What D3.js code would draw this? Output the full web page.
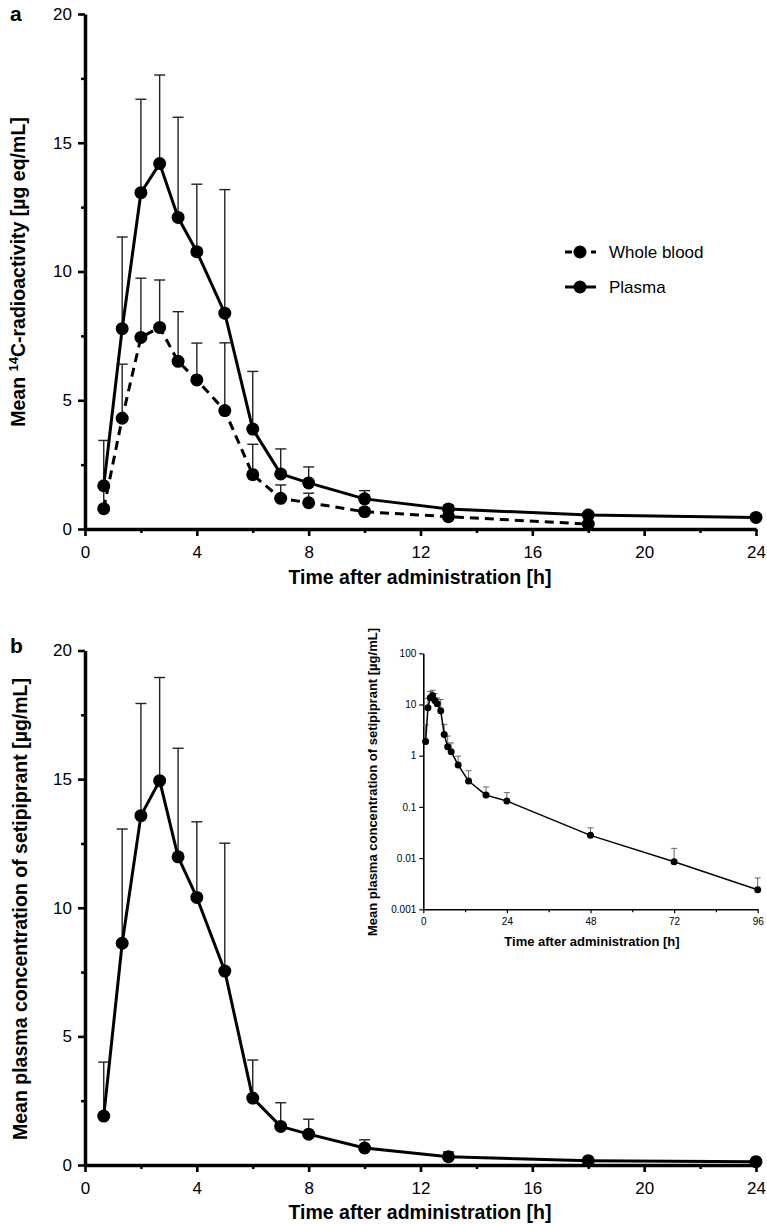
<!DOCTYPE html>
<html>
<head>
<meta charset="utf-8">
<script src="https://cdn.jsdelivr.net/npm/d3@7"></script>
<style>
  html, body { margin: 0; padding: 0; background: #fff; }
  svg { display: block; font-family: "Liberation Sans", Arial, Helvetica, sans-serif; }
</style>
</head>
<body>
<svg id="chart" width="767" height="1224"></svg>
<script>
// ---------- Data ----------
// Panel a: 14C-radioactivity
const timesA = [0.67, 1.33, 2, 2.67, 3.33, 4, 5, 6, 7, 8, 10, 13, 18, 24];
const plasmaA = [1.68, 7.78, 13.06, 14.19, 12.1, 10.77, 8.38, 3.88, 2.14, 1.79, 1.17, 0.78, 0.54, 0.45];
const plasmaAUpper = [3.44, 11.34, 16.69, 17.63, 15.99, 13.39, 13.18, 6.12, 3.11, 2.41, 1.49, 0.92, 0.64, 0.55];
const timesBlood = [0.67, 1.33, 2, 2.67, 3.33, 4, 5, 6, 7, 8, 10, 13, 18];
const bloodA = [0.79, 4.3, 7.44, 7.83, 6.51, 5.79, 4.6, 2.11, 1.19, 1.02, 0.67, 0.48, 0.19];
const bloodAUpper = [1.65, 6.4, 9.74, 9.67, 8.44, 7.22, 7.23, 3.29, 1.71, 1.39, 0.8, 0.58, 0.26];
const legendLabels = ["Whole blood", "Plasma"];

// Panel b: setipiprant plasma concentration
const timesB = [0.67, 1.33, 2, 2.67, 3.33, 4, 5, 6, 7, 8, 10, 13, 18, 24];
const setipB = [1.9, 8.62, 13.58, 14.94, 11.98, 10.4, 7.54, 2.6, 1.5, 1.2, 0.66, 0.32, 0.17, 0.13];
const setipBUpper = [4.0, 13.06, 17.94, 18.95, 16.2, 13.34, 12.51, 4.08, 2.42, 1.78, 0.98, 0.51, 0.245, 0.19];

// Inset: log scale, 0-96 h
const timesInset = [0.67, 1.33, 2, 2.67, 3.33, 4, 5, 6, 7, 8, 10, 13, 18, 24, 48, 72, 96];
const setipInset = [1.9, 8.62, 13.58, 14.94, 11.98, 10.4, 7.54, 2.6, 1.5, 1.2, 0.66, 0.32, 0.17, 0.13, 0.0278, 0.0085, 0.0024];
const setipInsetUpper = [4.0, 13.06, 17.94, 18.95, 16.2, 13.34, 12.51, 4.08, 2.42, 1.78, 0.98, 0.51, 0.245, 0.19, 0.039, 0.0155, 0.0041];

// Tick values
const xTicksMain = [0, 4, 8, 12, 16, 20, 24];
const xMinorMain = [2, 6, 10, 14, 18, 22];
const yTicksMain = [0, 5, 10, 15, 20];
const yMinorMain = [2.5, 7.5, 12.5, 17.5];
const xTicksInset = [0, 24, 48, 72, 96];
const xMinorInset = [12, 36, 60, 84];
const yTicksInset = [0.001, 0.01, 0.1, 1, 10, 100];
const yTickLabelsInset = ["0.001", "0.01", "0.1", "1", "10", "100"];

// ---------- Drawing ----------
const svg = d3.select("#chart");

function styleAxis(g, width, fontSize) {
  g.select(".domain").attr("stroke", "#000").attr("stroke-width", width);
  g.selectAll(".tick line").attr("stroke", "#000").attr("stroke-width", width * 0.75);
  g.selectAll(".tick text").attr("fill", "#000").attr("font-size", fontSize)
    .attr("font-family", "Liberation Sans, Arial, sans-serif");
}

function mainPanel(opts) {
  const x = d3.scaleLinear().domain([0, 24]).range([85, 756]);
  const y = d3.scaleLinear().domain([0, 20]).range([opts.y0, opts.y20]);

  // minor ticks
  const gxm = svg.append("g").attr("transform", `translate(0,${opts.y0})`)
    .call(d3.axisBottom(x).tickValues(xMinorMain).tickSize(4).tickFormat(""));
  gxm.select(".domain").remove();
  gxm.selectAll(".tick line").attr("stroke", "#000").attr("stroke-width", 2.5);
  const gym = svg.append("g").attr("transform", `translate(85,0)`)
    .call(d3.axisLeft(y).tickValues(yMinorMain).tickSize(4).tickFormat(""));
  gym.select(".domain").remove();
  gym.selectAll(".tick line").attr("stroke", "#000").attr("stroke-width", 2.5);

  const gx = svg.append("g").attr("transform", `translate(0,${opts.y0})`)
    .call(d3.axisBottom(x).tickValues(xTicksMain).tickSize(7).tickSizeOuter(0).tickPadding(10).tickFormat(d3.format("d")));
  styleAxis(gx, 3.5, 17);
  const gy = svg.append("g").attr("transform", `translate(85,0)`)
    .call(d3.axisLeft(y).tickValues(yTicksMain).tickSize(7).tickSizeOuter(0).tickPadding(6).tickFormat(d3.format("d")));
  styleAxis(gy, 3.5, 17);

  return { x, y };
}

function errorBars(g, times, vals, uppers, x, y, cap, color, w) {
  const data = times.map((t, i) => ({ t, v: vals[i], u: uppers[i] }));
  g.selectAll(null).data(data).enter().append("line")
    .attr("x1", d => x(d.t)).attr("x2", d => x(d.t))
    .attr("y1", d => y(d.v)).attr("y2", d => y(d.u))
    .attr("stroke", color).attr("stroke-width", w);
  g.selectAll(null).data(data).enter().append("line")
    .attr("x1", d => x(d.t) - cap / 2).attr("x2", d => x(d.t) + cap / 2)
    .attr("y1", d => y(d.u)).attr("y2", d => y(d.u))
    .attr("stroke", color).attr("stroke-width", w);
}

function series(g, times, vals, x, y, lw, dash, r) {
  const data = times.map((t, i) => [t, vals[i]]);
  const line = d3.line().x(d => x(d[0])).y(d => y(d[1]));
  g.append("path").datum(data).attr("d", line)
    .attr("fill", "none").attr("stroke", "#000").attr("stroke-width", lw)
    .attr("stroke-dasharray", dash || null).attr("stroke-linejoin", "round");
  g.selectAll(null).data(data).enter().append("circle")
    .attr("cx", d => x(d[0])).attr("cy", d => y(d[1])).attr("r", r).attr("fill", "#000");
}

// ----- Panel a -----
const pa = mainPanel({ y0: 529, y20: 14 });
const ga = svg.append("g");
errorBars(ga, timesBlood, bloodA, bloodAUpper, pa.x, pa.y, 11, "#222", 1.4);
errorBars(ga, timesA, plasmaA, plasmaAUpper, pa.x, pa.y, 11, "#222", 1.4);
series(ga, timesBlood, bloodA, pa.x, pa.y, 3, "9,6", 6.5);
series(ga, timesA, plasmaA, pa.x, pa.y, 3, null, 6.5);

svg.append("text").attr("x", 10).attr("y", 21).attr("font-size", 21).attr("font-weight", "bold").text("a");

const yla = svg.append("text").attr("transform", "translate(25,272) rotate(-90)")
  .attr("text-anchor", "middle").attr("font-size", 19.5).attr("font-weight", "bold");
yla.append("tspan").text("Mean ");
yla.append("tspan").attr("font-size", 13).attr("dy", -7).text("14");
yla.append("tspan").attr("dy", 7).text("C-radioactivity [µg eq/mL]");

svg.append("text").attr("x", 420).attr("y", 584).attr("text-anchor", "middle")
  .attr("font-size", 19.5).attr("font-weight", "bold").text("Time after administration [h]");

// legend
const lg = svg.append("g");
legendLabels.forEach((lab, i) => {
  const ly = 252 + i * 35;
  lg.append("line").attr("x1", 565).attr("x2", 596).attr("y1", ly).attr("y2", ly)
    .attr("stroke", "#000").attr("stroke-width", 3).attr("stroke-dasharray", i === 0 ? "7,6" : null);
  lg.append("circle").attr("cx", 580).attr("cy", ly).attr("r", 6.5).attr("fill", "#000");
  lg.append("text").attr("x", 609).attr("y", ly + 6).attr("font-size", 17).text(lab);
});

// ----- Panel b -----
const pb = mainPanel({ y0: 1165, y20: 650.5 });
const gb = svg.append("g");
errorBars(gb, timesB, setipB, setipBUpper, pb.x, pb.y, 11, "#222", 1.4);
series(gb, timesB, setipB, pb.x, pb.y, 3, null, 6.5);

svg.append("text").attr("x", 10).attr("y", 653).attr("font-size", 21).attr("font-weight", "bold").text("b");

svg.append("text").attr("transform", "translate(26.5,909) rotate(-90)")
  .attr("text-anchor", "middle").attr("font-size", 19.5).attr("font-weight", "bold")
  .text("Mean plasma concentration of setipiprant [µg/mL]");

svg.append("text").attr("x", 420).attr("y", 1219).attr("text-anchor", "middle")
  .attr("font-size", 19.5).attr("font-weight", "bold").text("Time after administration [h]");

// ----- Inset -----
const xi = d3.scaleLinear().domain([0, 96]).range([423.3, 757.7]);
const yi = d3.scaleLog().domain([0.001, 100]).range([909.3, 653.3]);

const gxim = svg.append("g").attr("transform", "translate(0,909.3)")
  .call(d3.axisBottom(xi).tickValues(xMinorInset).tickSize(3).tickFormat(""));
gxim.select(".domain").remove();
gxim.selectAll(".tick line").attr("stroke", "#000").attr("stroke-width", 1.2);

const gxi = svg.append("g").attr("transform", "translate(0,909.3)")
  .call(d3.axisBottom(xi).tickValues(xTicksInset).tickSize(4).tickSizeOuter(0).tickPadding(5).tickFormat(d3.format("d")));
styleAxis(gxi, 1.6, 10);
const gyi = svg.append("g").attr("transform", "translate(423.3,0)")
  .call(d3.axisLeft(yi).tickValues(yTicksInset).tickSize(4).tickSizeOuter(0).tickPadding(3)
    .tickFormat((d, i) => yTickLabelsInset[i]));
styleAxis(gyi, 1.6, 10);

const gi = svg.append("g");
errorBars(gi, timesInset, setipInset, setipInsetUpper, xi, yi, 6, "#666", 1);
series(gi, timesInset, setipInset, xi, yi, 1.5, null, 3.5);

svg.append("text").attr("transform", "translate(377,782) rotate(-90)")
  .attr("text-anchor", "middle").attr("font-size", 13).attr("font-weight", "bold")
  .text("Mean plasma concentration of setipiprant [µg/mL]");
svg.append("text").attr("x", 592).attr("y", 946).attr("text-anchor", "middle")
  .attr("font-size", 13).attr("font-weight", "bold").text("Time after administration [h]");
</script>
</body>
</html>
